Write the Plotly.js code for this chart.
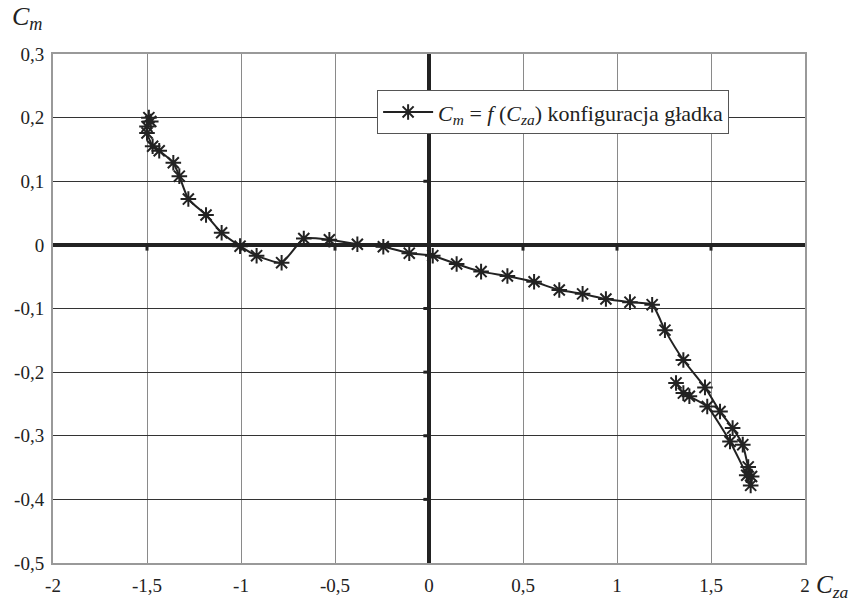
<!DOCTYPE html>
<html>
<head>
<meta charset="utf-8">
<script src="https://cdn.plot.ly/plotly-3.0.1.min.js"></script>
<style>html,body{margin:0;padding:0;background:#fff;}#chart{width:861px;height:604px;}</style>
</head>
<body>
<div id="chart"></div>
<script>
const czaValues = [-1.49, -1.48, -1.50, -1.50, -1.47, -1.435, -1.36, -1.328, -1.28, -1.186, -1.103, -1.005, -0.917, -0.784, -0.666, -0.530, -0.381, -0.243, -0.105, 0.02, 0.147, 0.277, 0.417, 0.559, 0.693, 0.817, 0.941, 1.069, 1.187, 1.255, 1.353, 1.468, 1.548, 1.615, 1.669, 1.698, 1.716, 1.711, 1.69, 1.601, 1.48, 1.385, 1.353, 1.314];
const cmValues  = [0.200, 0.194, 0.186, 0.176, 0.155, 0.148, 0.129, 0.108, 0.072, 0.047, 0.019, -0.002, -0.017, -0.028, 0.010, 0.008, 0.001, -0.003, -0.013, -0.017, -0.030, -0.042, -0.049, -0.058, -0.071, -0.077, -0.085, -0.090, -0.094, -0.134, -0.181, -0.224, -0.262, -0.288, -0.314, -0.349, -0.364, -0.378, -0.362, -0.309, -0.254, -0.238, -0.233, -0.217];
const xTickVals = [-2, -1.5, -1, -0.5, 0, 0.5, 1, 1.5, 2];
const xTickText = ['-2', '-1,5', '-1', '-0,5', '0', '0,5', '1', '1,5', '2'];
const yTickVals = [0.3, 0.2, 0.1, 0, -0.1, -0.2, -0.3, -0.4, -0.5];
const yTickText = ['0,3', '0,2', '0,1', '0', '-0,1', '-0,2', '-0,3', '-0,4', '-0,5'];
const seriesName = '<i>C<sub>m</sub></i> = <i>f</i> (<i>C<sub>za</sub></i>) konfiguracja gładka';

const serif = "'Liberation Serif', 'Times New Roman', 'DejaVu Serif', serif";

const trace = {
  x: czaValues, y: cmValues, type: 'scatter', mode: 'lines+markers',
  name: seriesName,
  line: {color: '#222', width: 2, shape: 'spline', smoothing: 0.5},
  marker: {symbol: 'asterisk-open', size: 13, color: '#222', line: {color: '#222', width: 2}}
};

// small axis tick marks on the zero lines (Excel style)
const shapes = [];
xTickVals.forEach(v => {
  if (v > -2 && v < 2 && v !== 0) shapes.push({type: 'line', xref: 'x', yref: 'y', x0: v, x1: v, y0: 0, y1: -0.009, line: {color: '#222', width: 3}});
});
yTickVals.forEach(v => {
  if (v > -0.5 && v < 0.3 && v !== 0) shapes.push({type: 'line', xref: 'x', yref: 'y', x0: 0, x1: -0.03, y0: v, y1: v, line: {color: '#222', width: 3}});
});

const layout = {
  width: 861, height: 604,
  margin: {l: 53, r: 56, t: 54, b: 41},
  paper_bgcolor: '#fff', plot_bgcolor: '#fff',
  font: {family: serif, color: '#222', size: 19},
  showlegend: true,
  legend: {x: 0.431, y: 0.929, xanchor: 'left', yanchor: 'top', bgcolor: '#fff',
           bordercolor: '#555', borderwidth: 1, itemwidth: 50,
           font: {family: serif, size: 22, color: '#222'}},
  xaxis: {range: [-2, 2], tickvals: xTickVals, ticktext: xTickText, showgrid: true,
          gridcolor: '#8a8a8a', gridwidth: 1, zeroline: true, zerolinecolor: '#222', zerolinewidth: 4,
          showline: true, linecolor: '#999', linewidth: 2, mirror: true, ticks: 'outside', ticklen: 4, tickcolor: 'rgba(0,0,0,0)',
          tickfont: {family: serif, size: 19, color: '#222'}, fixedrange: true},
  yaxis: {range: [-0.5, 0.3], tickvals: yTickVals, ticktext: yTickText, showgrid: true,
          gridcolor: '#333', gridwidth: 1, zeroline: true, zerolinecolor: '#222', zerolinewidth: 4,
          showline: true, linecolor: '#999', linewidth: 2, mirror: true, ticks: 'outside', ticklen: 3, tickcolor: 'rgba(0,0,0,0)',
          tickfont: {family: serif, size: 19, color: '#222'}, fixedrange: true},
  shapes: shapes,
  annotations: [
    {text: '<i>C<sub>m</sub></i>', xref: 'paper', yref: 'paper', x: -0.057, y: 1.035, xanchor: 'left', yanchor: 'bottom',
     showarrow: false, font: {family: serif, size: 26, color: '#222'}},
    {text: '<i>C<sub>za</sub></i>', xref: 'paper', yref: 'paper', x: 1.012, y: -0.012, xanchor: 'left', yanchor: 'top',
     showarrow: false, font: {family: serif, size: 25, color: '#222'}}
  ]
};

Plotly.newPlot('chart', [trace], layout, {displayModeBar: false, staticPlot: true});
</script>
</body>
</html>
